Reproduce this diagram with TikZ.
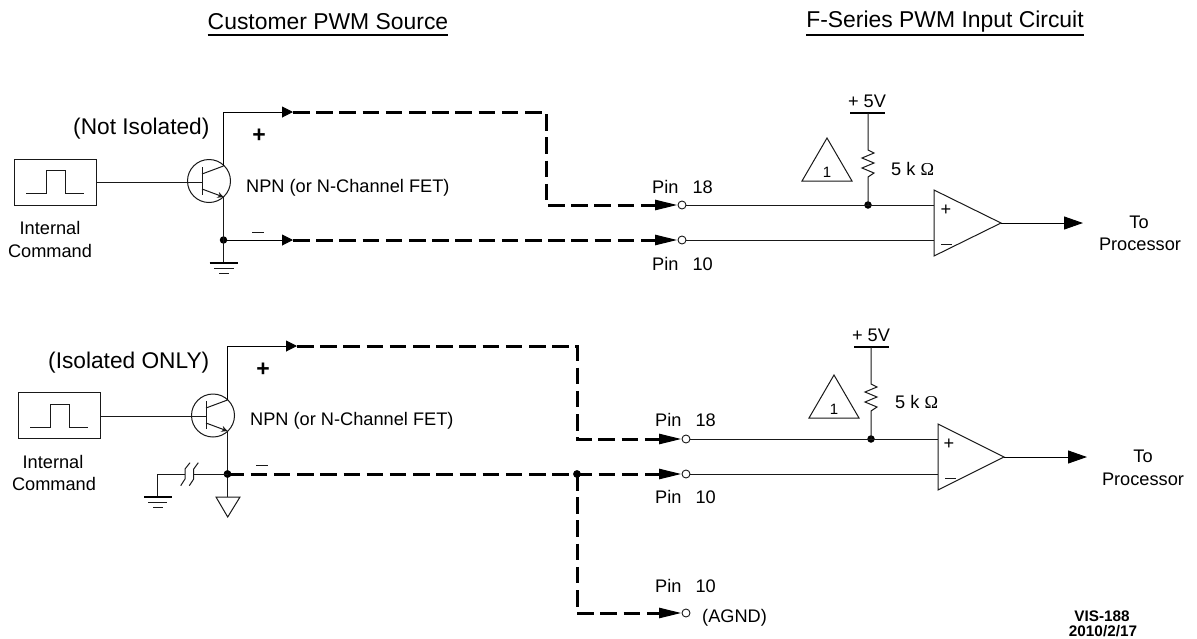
\documentclass[tikz,border=0pt]{standalone}
\usepackage{fontspec}
\setmainfont{Liberation Sans}
\newfontfamily\serifomega{Liberation Serif}
\usetikzlibrary{arrows.meta}
\tikzset{
  x=1pt,y=-1pt,
  wire/.style={line width=1pt,black!90},
  busdash/.style={line width=3pt,dash pattern=on 16.5pt off 6.7pt},
  tipshort/.style={line width=1pt,-{Triangle[length=11pt,width=11pt]}},
  tipwire/.style={line width=1pt,-{Triangle[length=22pt,width=10.5pt]}},
  tipout/.style={line width=1pt,-{Triangle[length=19pt,width=13pt]}},
  dotn/.style={circle,fill=black,inner sep=0pt,minimum size=7.5pt},
  pinn/.style={circle,draw=black!90,fill=white,line width=0.9pt,inner sep=0pt,minimum size=8pt},
  lab/.style={font=\fontsize{18.2}{20}\selectfont,inner sep=0pt},
  pinlab/.style={lab,anchor=west},
  biglab/.style={font=\fontsize{22.7}{24}\selectfont,inner sep=0pt,anchor=west},
  title/.style={font=\fontsize{22.9}{24}\selectfont,inner sep=0pt},
  numlab/.style={font=\fontsize{15}{16}\selectfont,inner sep=0pt},
  boldplus/.style={font=\bfseries\fontsize{23}{24}\selectfont,inner sep=0pt},
  vislab/.style={font=\bfseries\fontsize{15.3}{16}\selectfont,inner sep=0pt},
  tri/.style={draw=black!90,line width=1pt,fill=white},
  boxn/.style={draw=black!90,line width=1pt,inner sep=0pt,minimum width=82pt,minimum height=46pt,anchor=north west},
  tran/.style={circle,draw=black!90,line width=1pt,inner sep=0pt,minimum size=43pt},
}
\begin{document}
\begin{tikzpicture}
\useasboundingbox (0,0) rectangle (1197,638);
% titles
\node[title] (t1) at (328,22) {Customer PWM Source};
\node[title] (t2) at (945,22) {F-Series PWM Input Circuit};
\draw[line width=1.4pt] (t1.west |- 0,35) -- (t1.east |- 0,35);
\draw[line width=1.4pt] (t2.west |- 0,35) -- (t2.east |- 0,35);

%%%% TOP
\node[biglab] (niso) at (73,129) {(Not Isolated)};
\node[boxn] (bx1) at (14,159) {};
\draw[wire] (26,193) -- (46,193) -- (46,170) -- (65,170) -- (65,193) -- (84,193);
\node[tran] (q1) at (209,181) {};
\coordinate (q1b) at (202,182);
\coordinate (q1c) at (223.5,166);
\coordinate (q1e) at (223.5,197);
\draw[wire] (bx1.east |- q1b) -- (q1b);
\draw[wire] (202,167) -- (202,195);
\draw[wire] (202,174) -- (q1c);
\draw[wire,-{Stealth[length=6pt,width=6pt]}] (202,189) -- (q1e);
\coordinate (a1) at (293,112);
\coordinate (c1) at (546,112);
\coordinate (c2) at (546,205);
\coordinate (c3) at (573,205);
\coordinate (a2) at (656,205);
\node[dotn] (d1) at (223.5,240) {};
\coordinate (a3) at (293,240);
\coordinate (a4) at (656,240);
\coordinate (g1) at (223.5,263);
\draw[tipshort] (q1c) -- (q1c |- a1) -- (a1);
\draw[wire] (q1e) -- (g1);
\draw[tipshort] (d1.center) -- (a3);
\draw[busdash] (a1) -- (c1) -- (c2) -- (c3) -- (a2);
\draw[busdash] (a3) -- (a4);
\draw[line width=1.8pt] (209.5,263) -- (238,263);
\draw[wire] (214,268) -- (234,268);
\draw[wire] (219,273) -- (229,273);
\node[boldplus] (plus1) at (259,136) {+};
\draw[wire] (252,232) -- (264,232);
\node[pinlab] (npn1) at (246,188) {NPN (or N-Channel FET)};
\node[lab] (int1) at (50,228) {Internal};
\node[lab] (cmd1) at (50,251) {Command};

\coordinate (a2t) at (677,205);
\coordinate (a4t) at (677,240);
\draw[tipwire] (a2) -- (a2t);
\draw[tipwire] (a4) -- (a4t);
\node[pinn] (p18) at (682,205) {};
\node[pinn] (p10) at (682,240) {};
\node[pinlab] (l18) at (652,187) {Pin\hspace{9pt} 18};
\node[pinlab] (l10) at (652,264) {Pin\hspace{9pt} 10};
\node[dotn] (d2) at (868,205) {};
\coordinate (op1p) at (934,205);
\coordinate (op1m) at (934,240);
\coordinate (op1o) at (1001,223);
\draw[wire] (p18) -- (op1p);
\draw[wire] (p10) -- (op1m);
\draw[wire,fill=white] (934,190) -- (1001,223) -- (934,256) -- cycle;
\node[lab] (opp1) at (946,210) {+};
\draw[wire] (941,244) -- (952,244);
\coordinate (v1) at (868,113);
\draw[line width=1.8pt] (850,113) -- (885,113);
\draw[wire] (v1) -- (868,150) -- (874,153) -- (862,158) -- (874,163) -- (862,168) -- (874,173) -- (868,177) -- (d2.center);
\node[lab] (v5a) at (867,101) {+ 5V};
\draw[tri] (827,138) -- (852,181) -- (802,181) -- cycle;
\node[numlab] (n1a) at (827,172) {1};
\node[pinlab] (r1) at (891,169) {5 k {\serifomega Ω}};
\coordinate (o1) at (1083,223);
\draw[tipout] (op1o) -- (o1);
\node[lab] (to1) at (1139,222) {To};
\node[lab] (pr1) at (1140,244) {Processor};

%%%% BOTTOM
\node[biglab] (iso) at (48,363) {(Isolated ONLY)};
\node[boxn] (bx2) at (18,392) {};
\draw[wire] (30,427) -- (50,427) -- (50,404) -- (69,404) -- (69,427) -- (88,427);
\node[tran] (q2) at (213,415.5) {};
\coordinate (q2b) at (206,416);
\coordinate (q2c) at (227.5,400);
\coordinate (q2e) at (227.5,431);
\draw[wire] (bx2.east |- q2b) -- (q2b);
\draw[wire] (206,401) -- (206,429);
\draw[wire] (206,408) -- (q2c);
\draw[wire,-{Stealth[length=6pt,width=6pt]}] (206,423) -- (q2e);
\coordinate (b1) at (297,346);
\coordinate (e1) at (577,346);
\coordinate (e2) at (577,439);
\coordinate (b2) at (660,439);
\coordinate (b2t) at (681,439);
\node[dotn] (d3) at (227.5,474) {};
\node[dotn] (d4) at (577,474) {};
\coordinate (b3) at (660,474);
\coordinate (b3t) at (681,474);
\coordinate (e3) at (577,613);
\coordinate (b4) at (660,613);
\coordinate (b4t) at (681,613);
\coordinate (g2) at (157.5,474);
\coordinate (g3) at (157.5,497);
\coordinate (tr) at (227.5,497);
\draw[tipshort] (q2c) -- (q2c |- b1) -- (b1);
\draw[wire] (q2e) -- (tr);
\draw[busdash] (b1) -- (e1) -- (e2) -- (b2);
\draw[busdash] (d3.center) -- (d4.center) -- (b3);
\draw[busdash] (d4.center) -- (e3) -- (b4);
\draw[tipwire] (b2) -- (b2t);
\draw[tipwire] (b3) -- (b3t);
\draw[tipwire] (b4) -- (b4t);
\node[dotn] at (d3) {};
\node[dotn] at (d4) {};
\draw[wire] (d3.center) -- (193.7,474);
\draw[wire] (185,474) -- (g2) -- (g3);
\draw[wire] (180.7,485.7) -- (185,479) -- (185,469) -- (190,462.7);
\draw[wire] (189.3,485.7) -- (193.7,479) -- (193.7,469) -- (198.3,462.7);
\draw[line width=1.8pt] (144,497) -- (172,497);
\draw[wire] (148,502) -- (167,502);
\draw[wire] (153,507) -- (163,507);
\draw[tri] (216,497) -- (240,497) -- (227.7,517) -- cycle;
\node[boldplus] (plus2) at (263,370) {+};
\draw[wire] (256,465) -- (268,465);
\node[pinlab] (npn2) at (250,421) {NPN (or N-Channel FET)};
\node[lab] (int2) at (53,462) {Internal};
\node[lab] (cmd2) at (54,484) {Command};

\node[pinn] (p18b) at (686,439) {};
\node[pinn] (p10b) at (686,474) {};
\node[pinn] (p10c) at (686,613) {};
\node[pinlab] (l18b) at (655,420) {Pin\hspace{9pt} 18};
\node[pinlab] (l10b) at (655,497) {Pin\hspace{9pt} 10};
\node[pinlab] (l10c) at (655,586) {Pin\hspace{9pt} 10};
\node[pinlab] (agnd) at (702,618) {(AGND)};
\node[dotn] (d5) at (871,439) {};
\coordinate (op2p) at (938,439);
\coordinate (op2m) at (938,474);
\coordinate (op2o) at (1004,457);
\draw[wire] (p18b) -- (op2p);
\draw[wire] (p10b) -- (op2m);
\draw[wire,fill=white] (938,424) -- (1004,457) -- (938,490) -- cycle;
\node[lab] (opp2) at (949,444) {+};
\draw[wire] (945,478) -- (956,478);
\coordinate (v2) at (871,347);
\draw[line width=1.8pt] (854,347) -- (889,347);
\draw[wire] (v2) -- (871,384) -- (877,387) -- (865,392) -- (877,397) -- (865,402) -- (877,407) -- (871,411) -- (d5.center);
\node[lab] (v5b) at (871,335) {+ 5V};
\draw[tri] (834,375) -- (859,418) -- (809,418) -- cycle;
\node[numlab] (n1b) at (834,409) {1};
\node[pinlab] (r2) at (895,402) {5 k {\serifomega Ω}};
\coordinate (o2) at (1087,457);
\draw[tipout] (op2o) -- (o2);
\node[lab] (to2) at (1143,456) {To};
\node[lab] (pr2) at (1143,479) {Processor};

\node[vislab] (vis) at (1102,616) {VIS-188};
\node[vislab] (date) at (1103,631.5) {2010/2/17};
\end{tikzpicture}
\end{document}
